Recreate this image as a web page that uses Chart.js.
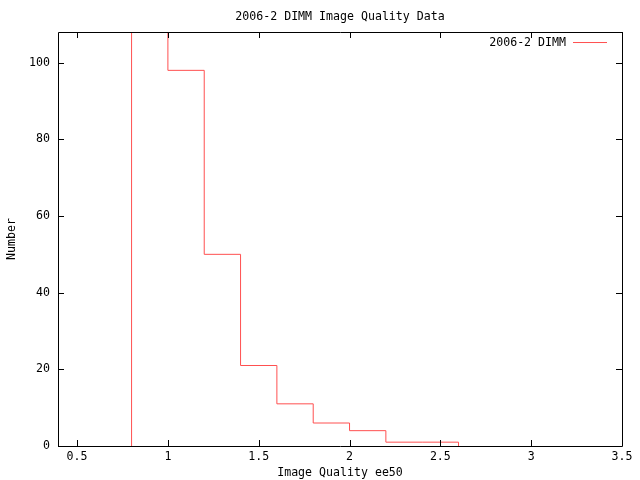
<!DOCTYPE html>
<html>
<head>
<meta charset="utf-8">
<script src="https://cdn.jsdelivr.net/npm/chart.js@4/dist/chart.umd.min.js"></script>
<style>
  html, body { margin: 0; padding: 0; background: #fff; }
  #wrap { width: 640px; height: 480px; }
</style>
</head>
<body>
<div id="wrap"><canvas id="iqChart" width="640" height="480"></canvas></div>
<script>
// histogram bins (ee50) and counts
const binEdges = [0.8, 1.0, 1.2, 1.4, 1.6, 1.8, 2.0, 2.2, 2.4, 2.6];
const binCounts = [150, 98, 50, 21, 11, 6, 4, 1, 1]; // first bin runs off the top
const xTicks = [0.5, 1, 1.5, 2, 2.5, 3, 3.5];
const yTicks = [0, 20, 40, 60, 80, 100];
const seriesLabel = '2006-2 DIMM';

const red = 'rgb(255,80,80)';
const fontFam = '"DejaVu Sans Mono", monospace';
const fs = 11.6;

// step outline: start on the axis, one point per bin edge, back down at the end
const stepPoints = [{ x: binEdges[0], y: 0 }];
binCounts.forEach((c, i) => stepPoints.push({ x: binEdges[i], y: c }));
stepPoints.push({ x: binEdges[binEdges.length - 1], y: 0 });

// gnuplot style frame, inward ticks on all sides and legend inside the plot
const frame = {
    id: 'frame',
    afterDraw(chart) {
        const { ctx, chartArea: a, scales } = chart;
        ctx.save();
        ctx.strokeStyle = '#000';
        ctx.lineWidth = 1;
        ctx.beginPath();
        ctx.rect(Math.round(a.left) + 0.5, Math.round(a.top) + 0.5,
                 Math.round(a.right - a.left), Math.round(a.bottom - a.top));
        xTicks.forEach(v => {
            const px = Math.round(scales.x.getPixelForValue(v)) + 0.5;
            ctx.moveTo(px, a.bottom); ctx.lineTo(px, a.bottom - 6);
            ctx.moveTo(px, a.top); ctx.lineTo(px, a.top + 6);
        });
        yTicks.forEach(v => {
            const py = Math.round(scales.y.getPixelForValue(v)) + 0.5;
            ctx.moveTo(a.left, py); ctx.lineTo(a.left + 6, py);
            ctx.moveTo(a.right, py); ctx.lineTo(a.right - 6, py);
        });
        ctx.stroke();

        // legend
        const ly = a.top + 10.5;
        ctx.font = fs + 'px ' + fontFam;
        ctx.fillStyle = '#000';
        ctx.textAlign = 'right';
        ctx.textBaseline = 'middle';
        ctx.fillText(chart.data.datasets[0].label, a.right - 56, ly);
        ctx.strokeStyle = red;
        ctx.beginPath();
        ctx.moveTo(a.right - 49, ly); ctx.lineTo(a.right - 15, ly);
        ctx.stroke();
        ctx.restore();
    }
};

new Chart(document.getElementById('iqChart'), {
    type: 'line',
    data: {
        datasets: [{
            label: seriesLabel,
            data: stepPoints,
            stepped: 'before',
            borderColor: red,
            borderWidth: 1,
            pointRadius: 0,
            fill: false
        }]
    },
    options: {
        responsive: false,
        animation: false,
        layout: { padding: { left: 0, right: 18, top: 0, bottom: 0 } },
        plugins: {
            legend: { display: false },
            tooltip: { enabled: false },
            title: {
                display: true,
                fullSize: false,
                text: '2006-2 DIMM Image Quality Data',
                color: '#000',
                font: { family: fontFam, size: fs, weight: 'normal', lineHeight: 1.2 },
                padding: { top: 10, bottom: 8.1 }
            }
        },
        scales: {
            x: {
                type: 'linear',
                min: 0.395,
                max: 3.5,
                afterFit: s => { s.height = 34; },
                afterBuildTicks: s => { s.ticks = xTicks.map(v => ({ value: v })); },
                grid: { display: false, drawTicks: false },
                border: { display: false },
                ticks: {
                    color: '#000',
                    padding: 4,
                    maxRotation: 0,
                    font: { family: fontFam, size: fs },
                    callback: v => String(v)
                },
                title: {
                    display: true,
                    text: 'Image Quality ee50',
                    color: '#000',
                    font: { family: fontFam, size: fs, lineHeight: 1.2 },
                    padding: { top: 0, bottom: 0 }
                }
            },
            y: {
                min: 0,
                max: 108,
                afterFit: s => { s.width = 58; },
                afterBuildTicks: s => { s.ticks = yTicks.map(v => ({ value: v })); },
                grid: { display: false, drawTicks: false },
                border: { display: false },
                ticks: {
                    color: '#000',
                    padding: 8,
                    font: { family: fontFam, size: fs }
                },
                title: {
                    display: true,
                    text: 'Number',
                    color: '#000',
                    font: { family: fontFam, size: fs, lineHeight: 1.2 },
                    padding: { top: 5, bottom: 0 }
                }
            }
        }
    },
    plugins: [frame]
});
</script>
</body>
</html>
